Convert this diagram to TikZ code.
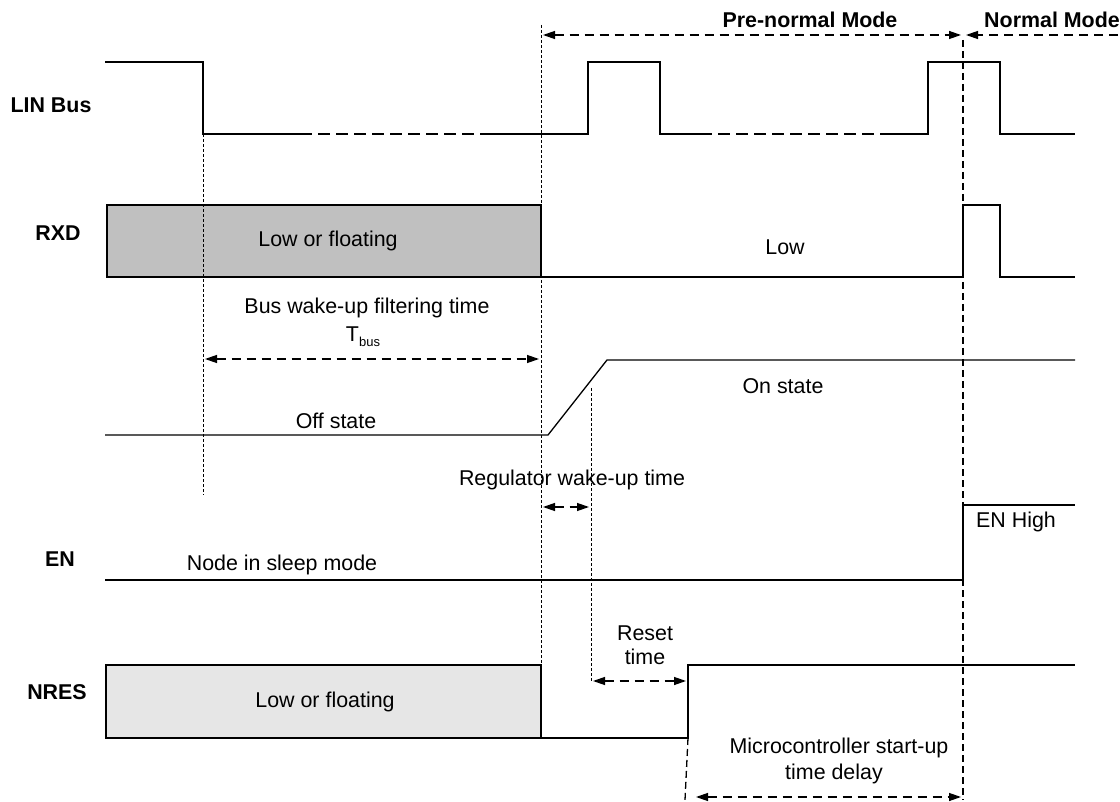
\documentclass[tikz,border=0pt]{standalone}
\usepackage{fontspec}
\setmainfont{Liberation Sans}
\usetikzlibrary{arrows.meta}
\begin{document}
\begin{tikzpicture}[x=1pt,y=-1pt,
  sig/.style={line width=1.3pt,black},
  vline/.style={line width=1pt,dash pattern=on 3pt off 2pt},
  vlinel/.style={line width=1.3pt,dash pattern=on 7pt off 4pt},
  dim/.style={line width=1.3pt,dash pattern=on 9pt off 6pt,{Triangle[length=12pt,width=8pt]}-{Triangle[length=12pt,width=8pt]}},
  dimr/.style={line width=1.3pt,dash pattern=on 9pt off 6pt,-{Triangle[length=12pt,width=8pt]}},
  txt/.style={inner sep=0pt,font=\fontsize{21.4}{24}\selectfont},
  lbl/.style={inner sep=0pt,font=\fontsize{21.4}{24}\selectfont\bfseries}]
\useasboundingbox (0,0) rectangle (1120,802);
% boxes
\fill[fill={rgb,255:red,192;green,192;blue,192}] (107,205) rectangle (541,277);
\draw[sig] (107,205) rectangle (541,277);
\fill[fill={rgb,255:red,230;green,230;blue,230}] (106,665) rectangle (541,738);
\draw[sig] (106,665) rectangle (541,738);
% vertical reference lines
\coordinate (v1t) at (541,25); \coordinate (v1b) at (541,665);
\coordinate (v2t) at (963,40); \coordinate (v2b) at (963,800);
\coordinate (v3t) at (203,134); \coordinate (v3b) at (203,495);
\coordinate (v4t) at (591,388); \coordinate (v4b) at (591,681);
\coordinate (v5t) at (688,738); \coordinate (v5b) at (685,800);
\draw[vline] (v1t) -- (v1b);
\draw[vlinel] (v2t) -- (v2b);
\draw[vline] (v3t) -- (v3b);
\draw[vline] (v4t) -- (v4b);
\draw[vlinel] (v5t) -- (v5b);
% LIN bus
\draw[sig] (105,62) -- (203,62) -- (203,134) -- (300,134);
\draw[sig,dash pattern=on 12pt off 6pt] (300,134) -- (486,134);
\draw[sig] (486,134) -- (588,134) -- (588,62) -- (660,62) -- (660,134) -- (700,134);
\draw[sig,dash pattern=on 12pt off 6pt] (700,134) -- (880,134);
\draw[sig] (880,134) -- (928,134) -- (928,62) -- (1000,62) -- (1000,134) -- (1075,134);
% RXD
\draw[sig] (541,277) -- (963,277) -- (963,205) -- (1000,205) -- (1000,277) -- (1075,277);
% regulator
\draw[sig] (105,435) -- (548,435) -- (607,360) -- (1075,360);
% EN
\draw[sig] (105,580) -- (963,580) -- (963,505) -- (1075,505);
% NRES
\draw[sig] (541,738) -- (688,738) -- (688,665) -- (1075,665);
% dimension arrows
\coordinate (pa) at (543,35); \coordinate (pb) at (961,35);
\coordinate (na) at (1118,35); \coordinate (nb) at (966,35);
\coordinate (ta) at (205,359); \coordinate (tb) at (539,359);
\coordinate (ra) at (543,507); \coordinate (rb) at (589,507);
\coordinate (sa) at (593,681); \coordinate (sb) at (686,681);
\coordinate (ma) at (696,797); \coordinate (mb) at (961,797);
\draw[dim] (pa) -- (pb);
\draw[dimr] (na) -- (nb);
\draw[dim] (ta) -- (tb);
\draw[dim] (ra) -- (rb);
\draw[dim] (sa) -- (sb);
\draw[dim] (ma) -- (mb);
% labels
\node[lbl] (linl) at (51,105) {LIN Bus};
\node[lbl] (rxdl) at (58,233) {RXD};
\node[lbl] (enl) at (60,559) {EN};
\node[lbl] (nresl) at (57,692) {NRES};
\node[lbl] (pre) at (810,20) {Pre-normal Mode};
\node[lbl] (nor) at (1052,20) {Normal Mode};
% texts
\node[txt] (t1) at (328,241) {Low or floating};
\node[txt] (t2) at (785,247) {Low};
\node[txt] (t3) at (367,308) {Bus wake-up filtering time};
\node[txt] (t4) at (363,337) {T\raisebox{-5pt}{\fontsize{13}{13}\selectfont bus}};
\node[txt] (t5) at (336,421) {Off state};
\node[txt] (t6) at (783,386) {On state};
\node[txt] (t7) at (572,480) {Regulator wake-up time};
\node[txt] (t8) at (1016,522) {EN High};
\node[txt] (t9) at (282,565) {Node in sleep mode};
\node[txt] (t10) at (645,633) {Reset};
\node[txt] (t11) at (645,657) {time};
\node[txt] (t12) at (325,702) {Low or floating};
\node[txt] (t13) at (839,748) {Microcontroller start-up};
\node[txt] (t14) at (834,774) {time delay};
\end{tikzpicture}
\end{document}
